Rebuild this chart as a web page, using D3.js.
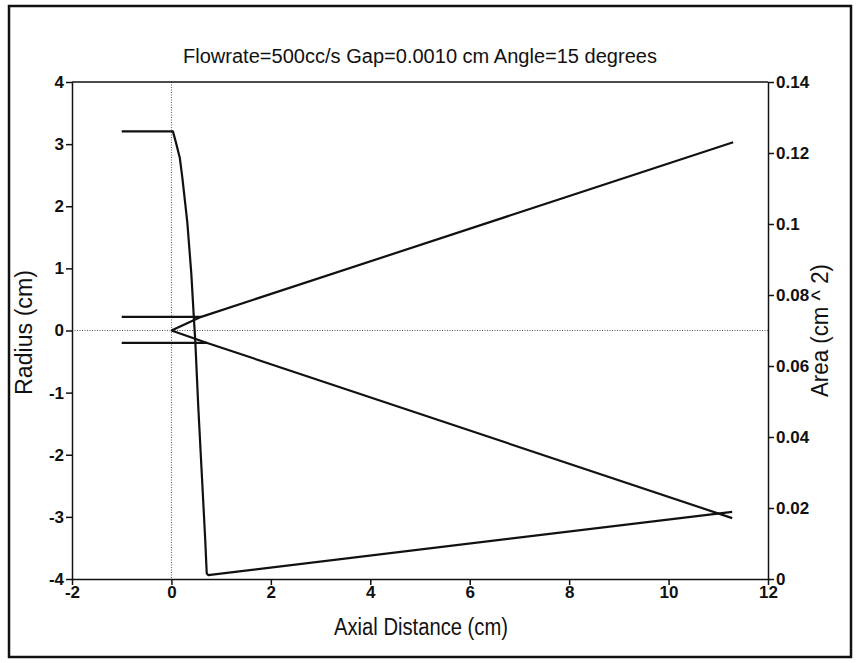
<!DOCTYPE html>
<html>
<head>
<meta charset="utf-8">
<script src="https://cdn.jsdelivr.net/npm/d3@7"></script>
<style>
  html, body { margin: 0; padding: 0; background: #fff; }
  svg { display: block; }
  text { font-family: "Liberation Sans", Arial, Helvetica, sans-serif; fill: #111; }
</style>
</head>
<body>
<svg id="chart" width="863" height="663"></svg>
<script>
// ---- data ----
const title = "Flowrate=500cc/s Gap=0.0010 cm Angle=15 degrees";
const xTicks = [-2, 0, 2, 4, 6, 8, 10, 12];
const radiusTicks = [-4, -3, -2, -1, 0, 1, 2, 3, 4];
const areaTicks = [0, 0.02, 0.04, 0.06, 0.08, 0.1, 0.12, 0.14];
const areaTickLabels = ["0", "0.02", "0.04", "0.06", "0.08", "0.1", "0.12", "0.14"];

// radius series (left axis): [axial distance, radius]
const upperInlet = [[-1, 0.22], [0.6, 0.22]];
const lowerInlet = [[-1, -0.2], [0.72, -0.2]];
const upperCone = [[0, 0], [0.6, 0.22], [11.3, 3.03]];
const lowerCone = [[0, 0], [0.72, -0.2], [11.28, -3.02]];

// area series (right axis): [axial distance, area]
const areaCurve = [
  [-1, 0.1261], [0.03, 0.1261], [0.09, 0.1230], [0.17, 0.1185], [0.22, 0.1130],
  [0.27, 0.1067], [0.32, 0.1004], [0.36, 0.0932], [0.40, 0.0860], [0.43, 0.0787],
  [0.46, 0.0715], [0.48, 0.0670], [0.54, 0.0485], [0.61, 0.0298], [0.68, 0.0110],
  [0.71, 0.0016], [0.74, 0.0011], [11.28, 0.0189]
];

// ---- layout ----
const svg = d3.select("#chart");
const L = 72, R = 768, T = 82, B = 579;

const x = d3.scaleLinear().domain([-2, 12]).range([L, R]);
const yR = d3.scaleLinear().domain([-4, 4]).range([B, T]);
const yA = d3.scaleLinear().domain([0, 0.14]).range([B, T]);

// outer frame
svg.append("rect")
  .attr("x", 9).attr("y", 6).attr("width", 842).attr("height", 651)
  .attr("fill", "none").attr("stroke", "#111").attr("stroke-width", 2.5);

// title
svg.append("text")
  .attr("x", 420).attr("y", 63)
  .attr("text-anchor", "middle")
  .style("font-size", "20px")
  .attr("textLength", 474).attr("lengthAdjust", "spacingAndGlyphs")
  .text(title);

// dotted zero lines
svg.append("line")
  .attr("x1", x(0)).attr("x2", x(0)).attr("y1", T).attr("y2", B)
  .attr("stroke", "#555").attr("stroke-width", 1).attr("stroke-dasharray", "1,1.5");
svg.append("line")
  .attr("x1", L).attr("x2", R).attr("y1", yR(0)).attr("y2", yR(0))
  .attr("stroke", "#555").attr("stroke-width", 1).attr("stroke-dasharray", "1,1.5");

// top border of plot
svg.append("line")
  .attr("x1", L).attr("x2", R).attr("y1", T).attr("y2", T)
  .attr("stroke", "#111").attr("stroke-width", 1.5);

// axes
const styleAxis = g => {
  g.select(".domain").attr("stroke", "#111").attr("stroke-width", 1.5);
  g.selectAll(".tick line").attr("stroke", "#111").attr("stroke-width", 1.5);
  g.selectAll(".tick text")
    .style("font-family", "'Liberation Sans', Arial, sans-serif")
    .style("font-size", "17px").style("font-weight", "bold").style("fill", "#111");
};

svg.append("g")
  .attr("transform", `translate(0,${B})`)
  .call(d3.axisBottom(x).tickValues(xTicks).tickFormat(d => String(d)).tickSize(6).tickPadding(1).tickSizeOuter(0))
  .call(styleAxis);

svg.append("g")
  .attr("transform", `translate(${L},0)`)
  .call(d3.axisLeft(yR).tickValues(radiusTicks).tickFormat(d => String(d)).tickSize(6).tickPadding(2).tickSizeOuter(0))
  .call(styleAxis);

svg.append("g")
  .attr("transform", `translate(${R},0)`)
  .call(d3.axisRight(yA).tickValues(areaTicks).tickFormat((d, i) => areaTickLabels[i]).tickSize(6).tickPadding(2).tickSizeOuter(0))
  .call(styleAxis);

// axis titles
svg.append("text")
  .attr("x", 421).attr("y", 635)
  .attr("text-anchor", "middle").style("font-size", "23px")
  .attr("textLength", 174).attr("lengthAdjust", "spacingAndGlyphs")
  .text("Axial Distance (cm)");

svg.append("text")
  .attr("transform", `translate(32,${(T + B) / 2 + 2}) rotate(-90)`)
  .attr("text-anchor", "middle").style("font-size", "23px")
  .attr("textLength", 125).attr("lengthAdjust", "spacingAndGlyphs")
  .text("Radius (cm)");

svg.append("text")
  .attr("transform", `translate(828,${(T + B) / 2}) rotate(-90)`)
  .attr("text-anchor", "middle").style("font-size", "23px")
  .attr("textLength", 133).attr("lengthAdjust", "spacingAndGlyphs")
  .text("Area (cm ^ 2)");

// lines
const lineR = d3.line().x(d => x(d[0])).y(d => yR(d[1]));
const lineA = d3.line().x(d => x(d[0])).y(d => yA(d[1]));

[upperInlet, lowerInlet, upperCone, lowerCone].forEach(s => {
  svg.append("path").attr("d", lineR(s))
    .attr("fill", "none").attr("stroke", "#111").attr("stroke-width", 2.2)
    .attr("stroke-linejoin", "round");
});

svg.append("path").attr("d", lineA(areaCurve))
  .attr("fill", "none").attr("stroke", "#111").attr("stroke-width", 2.2)
  .attr("stroke-linejoin", "round");
</script>
</body>
</html>
